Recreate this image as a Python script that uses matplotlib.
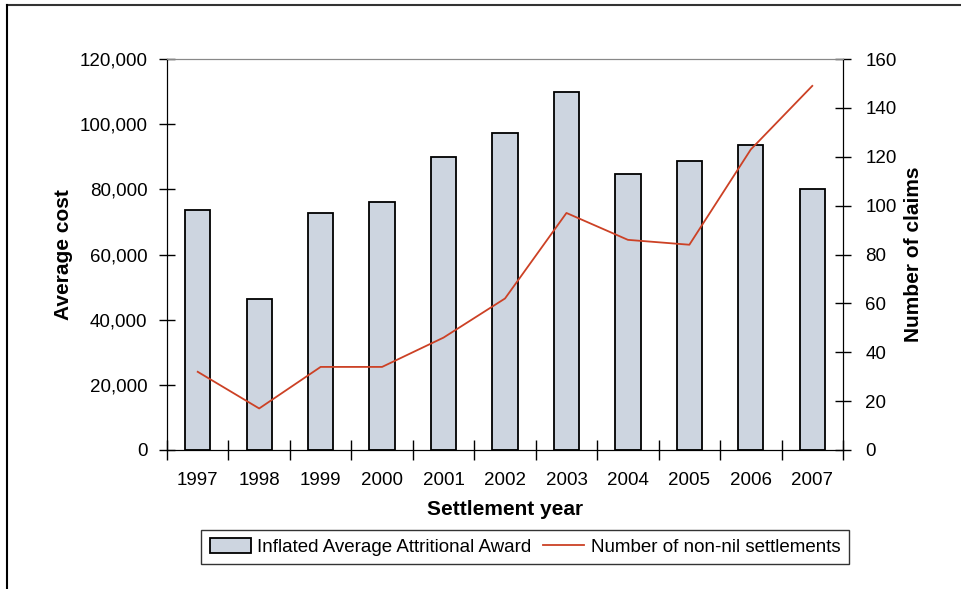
import matplotlib.pyplot as plt
from matplotlib.lines import Line2D

plt.rcParams['font.family'] = ['Liberation Sans', 'DejaVu Sans']

years = ['1997', '1998', '1999', '2000', '2001', '2002', '2003', '2004', '2005', '2006', '2007']
avg_award = [73600, 46300, 72700, 76200, 89800, 97300, 109900, 84700, 88700, 93600, 80100]
non_nil = [32, 17, 34, 34, 46, 62, 97, 86, 84, 123, 149]

bar_color = '#cdd5e0'
line_color = '#cc4125'

fig = plt.figure(figsize=(9.62, 5.89), dpi=100)
ax = fig.add_axes([0.1736, 0.236, 0.7027, 0.6638])
ax2 = ax.twinx()

x = list(range(len(years)))
bars = ax.bar(x, avg_award, width=0.41, color=bar_color, edgecolor='black', linewidth=1.3,
              label='Inflated Average Attritional Award', zorder=2)
line, = ax2.plot(x, non_nil, color=line_color, linewidth=1.3, label='Number of non-nil settlements')

# x axis: ticks on category boundaries, labels in the middle
ax.set_xlim(-0.5, len(years) - 0.5)
ax.set_xticks([i - 0.5 for i in range(len(years) + 1)])
ax.set_xticklabels([])
ax.set_xticks(x, minor=True)
ax.set_xticklabels(years, minor=True, fontsize=13.5)
ax.tick_params(axis='x', which='major', direction='inout', length=14, width=1)
ax.tick_params(axis='x', which='minor', length=0, pad=16)

ax.set_ylim(0, 120000)
ax.set_yticks(range(0, 120001, 20000))
ax.set_yticklabels([f'{v:,}' for v in range(0, 120001, 20000)], fontsize=13.5)
ax.tick_params(axis='y', direction='inout', length=12, width=1, pad=8)

ax2.set_ylim(0, 160)
ax2.set_yticks(range(0, 161, 20))
ax2.tick_params(axis='y', direction='inout', length=12, width=1, pad=10, labelsize=13.5)

for a in (ax, ax2):
    a.spines['top'].set_color('#888888')
    a.spines['left'].set_color('black')
    a.spines['right'].set_color('black')
    a.spines['bottom'].set_color('black')

ax.set_ylabel('Average cost', fontsize=15, fontweight='bold', labelpad=5)
ax2.set_ylabel('Number of claims', fontsize=15, fontweight='bold', labelpad=5)
ax.set_xlabel('Settlement year', fontsize=15, fontweight='bold', labelpad=8)

fig.legend(handles=[bars, line], loc='center', bbox_to_anchor=(0.5458, 0.0713), ncol=2,
           frameon=True, fancybox=False, edgecolor='black', fontsize=13.5,
           handlelength=2.2, handleheight=0.8, columnspacing=0.6, handletextpad=0.35,
           borderpad=0.45, borderaxespad=0.2)

# outer chart frame (top and left edges)
fig.add_artist(Line2D([7 / 962, 1.0], [1 - 5 / 589, 1 - 5 / 589], color='#333333', linewidth=1.5))
fig.add_artist(Line2D([7 / 962, 7 / 962], [0, 1 - 5 / 589], color='black', linewidth=1.5))

fig.savefig('out.png', dpi=100)
